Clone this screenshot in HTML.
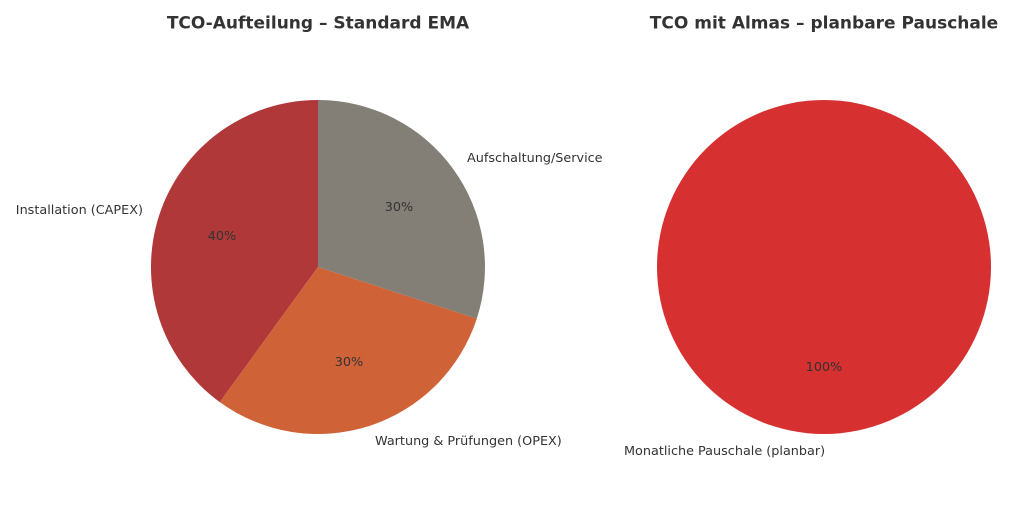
<!DOCTYPE html>
<html><head><meta charset="utf-8"><style>
body{margin:0;background:#fff;}
svg text{font-family:"DejaVu Sans","Liberation Sans",sans-serif;fill:#333;}
</style></head><body>
<svg width="1024" height="512" viewBox="0 0 1024 512" xmlns="http://www.w3.org/2000/svg">
<rect width="1024" height="512" fill="#fff"/>
<text x="318" y="28.5" text-anchor="middle" font-size="17" font-weight="bold">TCO-Aufteilung – Standard EMA</text>
<text x="824" y="28.5" text-anchor="middle" font-size="17" font-weight="bold">TCO mit Almas – planbare Pauschale</text>
<path d="M318,267 L318,100 A167,167 0 0,0 219.8,402.1 Z" fill="#b03838"/>
<path d="M318,267 L219.8,402.1 A167,167 0 0,0 476.8,318.6 Z" fill="#cf6236"/>
<path d="M318,267 L476.8,318.6 A167,167 0 0,0 318,100 Z" fill="#837f77"/>
<text x="222" y="240" text-anchor="middle" font-size="12.8">40%</text>
<text x="349" y="366" text-anchor="middle" font-size="12.8">30%</text>
<text x="399" y="211" text-anchor="middle" font-size="12.8">30%</text>
<text x="143" y="214" text-anchor="end" font-size="12.8">Installation (CAPEX)</text>
<text x="375" y="445" font-size="12.8">Wartung &amp; Prüfungen (OPEX)</text>
<text x="467" y="162" font-size="12.8">Aufschaltung/Service</text>
<circle cx="824" cy="267" r="167" fill="#d63031"/>
<text x="824" y="371" text-anchor="middle" font-size="12.8">100%</text>
<text x="624" y="455" font-size="12.8">Monatliche Pauschale (planbar)</text>
</svg>
</body></html>
